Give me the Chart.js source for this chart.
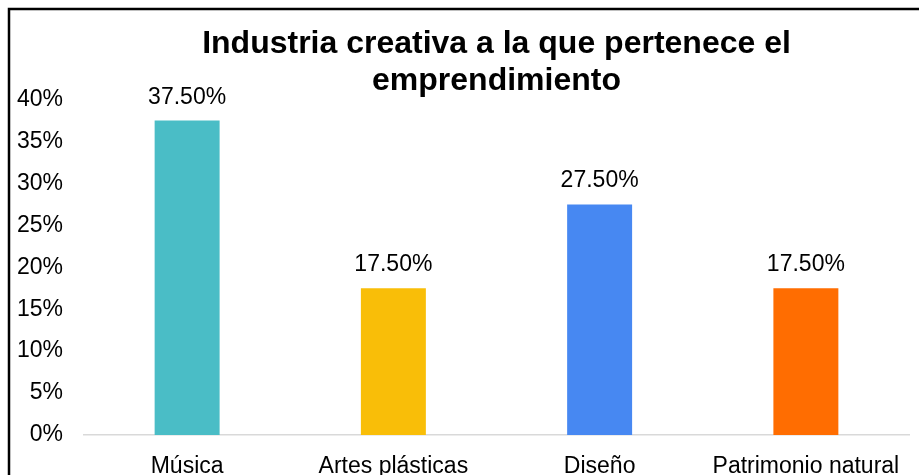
<!DOCTYPE html>
<html>
<head>
<meta charset="utf-8">
<script src="https://cdn.jsdelivr.net/npm/chart.js@4.4.0/dist/chart.umd.min.js"></script>
<style>
  html, body { margin: 0; padding: 0; background: #fff; }
  #wrap { width: 919px; height: 475px; position: relative; }
</style>
</head>
<body>
<div id="wrap"><canvas id="grafico"></canvas></div>
<script>
// datos
const categorias = ['Música', 'Artes plásticas', 'Diseño', 'Patrimonio natural'];
const porcentajes = [37.5, 17.5, 27.5, 17.5];
const colores = ['#4ABDC6', '#F9BE08', '#4788F2', '#FF6D01'];
const titulo = ['Industria creativa a la que pertenece el', 'emprendimiento'];

const fuente = "Arial, 'Liberation Sans', sans-serif";

// marco negro del grafico + etiquetas sobre las barras
const marcoYEtiquetas = {
    id: 'marcoYEtiquetas',
    beforeDraw(chart) {
        const ctx = chart.ctx;
        ctx.save();
        ctx.fillStyle = '#fff';
        ctx.fillRect(0, 0, chart.width, chart.height);
        ctx.strokeStyle = '#000';
        ctx.lineWidth = 2.5;
        ctx.strokeRect(9, 9, chart.width + 20, chart.height + 20);
        ctx.restore();
    },
    afterDatasetsDraw(chart) {
        const ctx = chart.ctx;
        const meta = chart.getDatasetMeta(0);
        ctx.save();
        ctx.font = '23px ' + fuente;
        ctx.fillStyle = '#000';
        ctx.textAlign = 'center';
        ctx.textBaseline = 'alphabetic';
        meta.data.forEach(function (barra, i) {
            ctx.fillText(porcentajes[i].toFixed(2) + '%', barra.x, barra.y - 17);
        });
        ctx.restore();
    }
};

const config = {
    type: 'bar',
    data: {
        labels: categorias,
        datasets: [{
            data: porcentajes,
            backgroundColor: colores,
            borderWidth: 0,
            categoryPercentage: 1,
            barPercentage: 0.315
        }]
    },
    options: {
        responsive: false,
        animation: false,
        layout: { padding: { left: 0, right: 10, top: 0, bottom: 0 } },
        plugins: {
            legend: { display: false },
            tooltip: { enabled: false },
            title: {
                display: true,
                text: titulo,
                fullSize: false,
                color: '#000',
                font: { family: fuente, size: 32, weight: 'bold', lineHeight: 1.15 },
                padding: { top: 26, bottom: 0 }
            }
        },
        scales: {
            x: {
                grid: { display: false, drawTicks: false },
                border: { display: true, color: '#D9D9D9', width: 1.5 },
                ticks: { color: '#000', font: { family: fuente, size: 23 }, padding: 18, maxRotation: 0, autoSkip: false },
                afterFit(scale) { scale.height = 40; }
            },
            y: {
                min: 0,
                max: 40,
                grid: { display: false, drawTicks: false },
                border: { display: false },
                ticks: {
                    stepSize: 5,
                    color: '#000',
                    font: { family: fuente, size: 23 },
                    padding: 21,
                    callback: function (v) { return v + '%'; }
                },
                afterFit(scale) { scale.width = 84; }
            }
        }
    },
    plugins: [marcoYEtiquetas]
};

const canvas = document.getElementById('grafico');
canvas.width = 919;
canvas.height = 475;
new Chart(canvas.getContext('2d'), config);
</script>
</body>
</html>
